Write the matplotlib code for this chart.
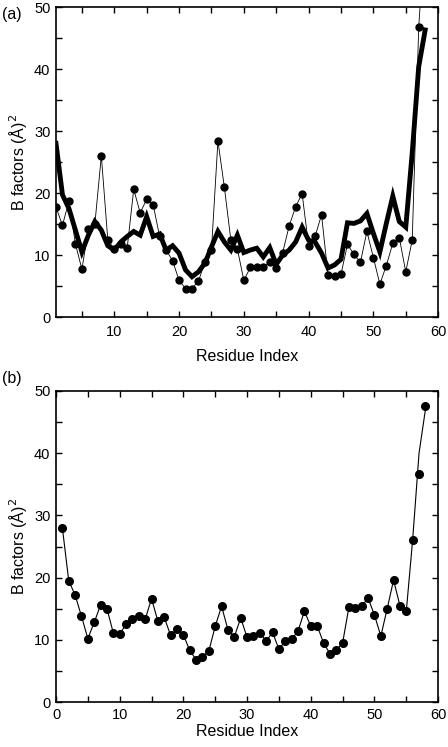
import numpy as np
import matplotlib.pyplot as plt
from matplotlib.ticker import MultipleLocator

plt.rcParams['font.family'] = ['Liberation Sans', 'DejaVu Sans']

residues = np.arange(1, 59)

# panel (a) dots: per-residue B factors (residue 58 goes off the top)
a_dots = [17.7, 14.8, 18.7, 11.8, 7.7, 14.2, 15.0, 26.0, 12.4, 11.0,
          11.8, 11.2, 20.6, 16.8, 19.0, 18.1, 13.0, 10.8, 9.1, 5.9,
          4.6, 4.6, 5.8, 8.9, 10.8, 28.4, 20.9, 12.4, 11.0, 5.9,
          8.0, 8.0, 8.1, 8.8, 7.9, 10.4, 14.7, 17.8, 19.9, 11.5,
          13.0, 16.5, 6.7, 6.6, 6.9, 11.7, 10.1, 8.8, 13.8, 9.6,
          5.3, 8.3, 11.9, 12.8, 7.3, 12.4, 46.7, 63.0]

# panel (a) thick curve
a_thick = [28.0, 19.7, 17.5, 14.0, 10.5, 13.2, 15.4, 14.0, 11.5, 10.8,
           12.1, 13.0, 13.8, 13.2, 16.2, 13.0, 13.4, 10.8, 11.5, 10.3,
           7.6, 6.5, 7.3, 8.7, 11.3, 13.8, 12.1, 10.8, 13.2, 10.4,
           10.8, 11.1, 9.7, 11.2, 8.5, 10.0, 10.8, 12.1, 14.5, 12.4,
           12.1, 10.3, 7.9, 8.4, 9.3, 15.2, 15.1, 15.5, 16.7, 13.5,
           10.5, 15.1, 19.5, 15.4, 14.5, 26.5, 40.4, 46.3]

# panel (b) line and markers
b_line = [28.0, 19.5, 17.2, 13.8, 10.2, 12.8, 15.6, 15.0, 11.1, 10.9,
          12.5, 13.3, 13.9, 13.3, 16.6, 13.0, 13.6, 10.7, 11.7, 10.8,
          8.3, 6.8, 7.3, 8.2, 12.2, 15.4, 11.6, 10.5, 13.5, 10.4,
          10.6, 11.1, 9.8, 11.2, 8.5, 9.8, 10.1, 11.4, 14.6, 12.2,
          12.3, 9.5, 7.8, 8.3, 9.5, 15.3, 15.1, 15.4, 16.7, 14.0,
          10.6, 15.0, 19.6, 15.5, 14.6, 26.1, 40.0, 47.0]
b_dots = b_line[:56] + [36.7, 47.6]

fig = plt.figure(figsize=(4.48, 7.47), dpi=100)
ax1 = fig.add_axes([0.125, 0.5756, 0.853, 0.415])
ax2 = fig.add_axes([0.125, 0.0602, 0.853, 0.4164])

ax1.plot(residues, a_dots, color='black', lw=0.6, marker='o', ms=5)
ax1.plot(residues, a_thick, color='black', lw=3.5, solid_joinstyle='miter')
ax1.set_xlim(1, 60)

ax2.plot(residues, b_line, color='black', lw=0.8)
ax2.plot(residues, b_dots, color='black', lw=0, marker='o', ms=5.5)
ax2.set_xlim(0, 60)

for ax in (ax1, ax2):
    ax.set_ylim(0, 50)
    ax.xaxis.set_major_locator(MultipleLocator(10))
    ax.xaxis.set_minor_locator(MultipleLocator(5))
    ax.yaxis.set_major_locator(MultipleLocator(10))
    ax.yaxis.set_minor_locator(MultipleLocator(5))
    ax.tick_params(which='both', direction='in', top=True, right=True,
                   length=4, width=1, labelsize=10.5, pad=4)
    for s in ax.spines.values():
        s.set_linewidth(1.2)
    ax.set_ylabel('B factors (Å)$^2$', fontsize=11.5, labelpad=4)

ax1.set_xticks([10, 20, 30, 40, 50, 60])
ax1.tick_params(axis='x', which='both', pad=6)
ax1.set_xlabel('Residue Index', fontsize=11.5, labelpad=7)
ax2.set_xlabel('Residue Index', fontsize=11.5, labelpad=2)

fig.text(0.004, 0.99, '(a)', fontsize=11.5, va='top', ha='left')
fig.text(0.004, 0.503, '(b)', fontsize=11.5, va='top', ha='left')

fig.savefig('out.png', dpi=100)
